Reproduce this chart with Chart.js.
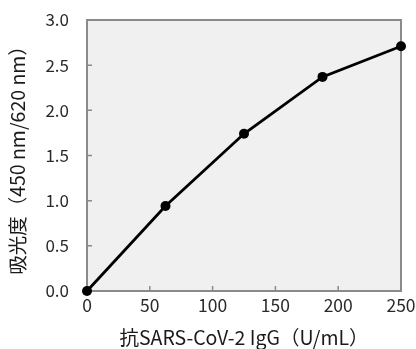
<!DOCTYPE html>
<html>
<head>
<meta charset="utf-8">
<script src="https://cdn.jsdelivr.net/npm/chart.js@4"></script>
<style>
  html, body { margin: 0; padding: 0; background: #fff; }
  canvas { display: block; }
</style>
</head>
<body>
<canvas id="chart" width="416" height="349"></canvas>
<script>
// Data
const concentrations = [0, 62.5, 125, 187.5, 250];
const absorbance = [0, 0.94, 1.74, 2.37, 2.71];
const xTitle = '抗SARS-CoV-2 IgG（U/mL）';
const yTitle = '吸光度（450 nm/620 nm）';

const FONT = '"Noto Sans CJK JP", "Noto Sans", sans-serif';
const AXIS_GREY = '#8a8a8a';

// Plot frame: grey fill, box border and short inward ticks
const framePlugin = {
  id: 'frame',
  beforeDatasetsDraw(chart) {
    const { ctx, chartArea: a, scales } = chart;
    ctx.save();
    ctx.fillStyle = '#f0f0f0';
    ctx.fillRect(a.left, a.top, a.right - a.left, a.bottom - a.top);
    ctx.strokeStyle = AXIS_GREY;
    ctx.lineWidth = 2;
    ctx.strokeRect(a.left, a.top, a.right - a.left, a.bottom - a.top);
    ctx.lineWidth = 1.5;
    ctx.beginPath();
    scales.x.ticks.forEach((t, i) => {
      const px = scales.x.getPixelForTick(i);
      ctx.moveTo(px, a.bottom);
      ctx.lineTo(px, a.bottom - 5);
    });
    scales.y.ticks.forEach((t, i) => {
      const py = scales.y.getPixelForTick(i);
      ctx.moveTo(a.left, py);
      ctx.lineTo(a.left + 5, py);
    });
    ctx.stroke();
    ctx.restore();
  },
};

new Chart(document.getElementById('chart'), {
  type: 'line',
  data: {
    datasets: [{
      data: concentrations.map((x, i) => ({ x, y: absorbance[i] })),
      borderColor: '#000',
      borderWidth: 2.8,
      backgroundColor: '#000',
      pointRadius: 5,
      pointBackgroundColor: '#000',
      pointBorderWidth: 0,
      tension: 0,
      clip: false,
    }],
  },
  options: {
    responsive: false,
    animation: false,
    layout: { padding: { top: 20, right: 15, left: 0, bottom: 0 } },
    scales: {
      x: {
        type: 'linear',
        min: 0,
        max: 250,
        afterFit: (scale) => {
          scale.height = 58;
          scale.paddingLeft = 0;
          scale.paddingRight = 0;
        },
        grid: { display: false },
        border: { display: true, color: AXIS_GREY, width: 2 },
        ticks: {
          stepSize: 50,
          padding: -4,
          color: '#2a2a2a',
          font: { family: FONT, size: 17.5 },
          maxRotation: 0,
        },
        title: {
          display: true,
          text: xTitle,
          color: '#1a1a1a',
          font: { family: FONT, size: 19.5 },
          padding: { top: 0, bottom: 0 },
        },
      },
      y: {
        min: 0,
        max: 3,
        afterFit: (scale) => {
          scale.width = 87;
          scale.paddingTop = 0;
          scale.paddingBottom = 0;
        },
        grid: { display: false },
        border: { display: true, color: AXIS_GREY, width: 2 },
        ticks: {
          stepSize: 0.5,
          padding: 10,
          color: '#2a2a2a',
          font: { family: FONT, size: 17 },
          callback: (v) => v.toFixed(1),
        },
        title: {
          display: true,
          text: yTitle,
          color: '#1a1a1a',
          font: { family: FONT, size: 19.5 },
          padding: { top: 6, bottom: 0 },
        },
      },
    },
    plugins: {
      legend: { display: false },
      tooltip: { enabled: false },
    },
  },
  plugins: [framePlugin],
});
</script>
</body>
</html>
